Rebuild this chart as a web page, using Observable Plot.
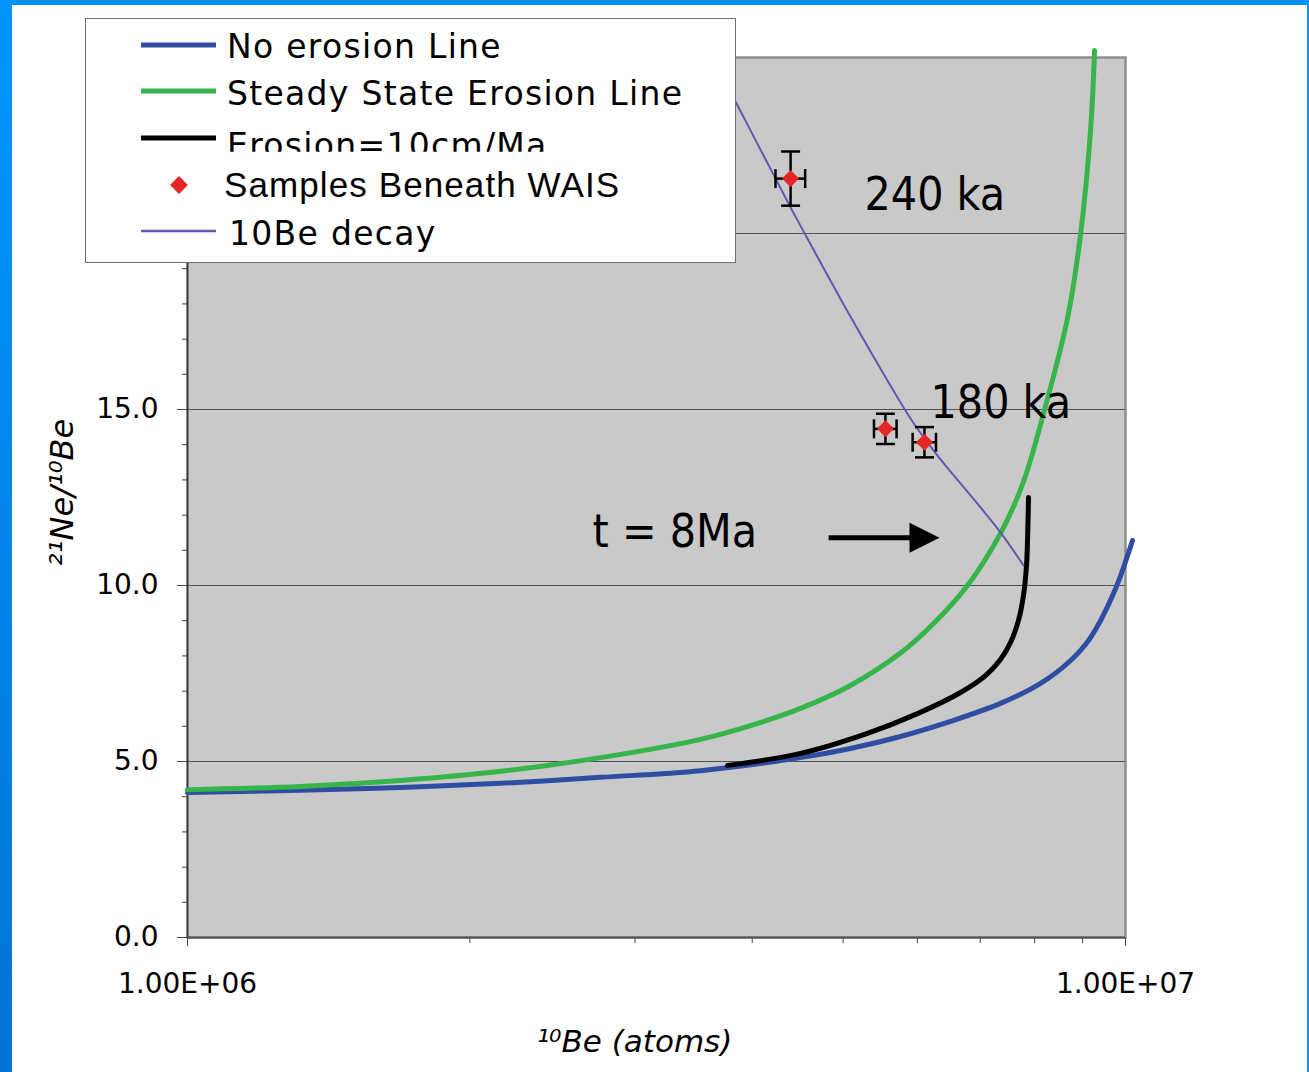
<!DOCTYPE html>
<html>
<head>
<meta charset="utf-8">
<script src="https://cdn.jsdelivr.net/npm/d3@7"></script>
<script src="https://cdn.jsdelivr.net/npm/@observablehq/plot@0.6"></script>
<style>
html, body { margin: 0; padding: 0; background: #fff; }
#wrap { position: relative; width: 1309px; height: 1072px; overflow: hidden; background: #fff; }
#chart { position: absolute; left: 0; top: 0; }
.fl { position: absolute; left: 0; top: 0; width: 12px; height: 1072px; background: linear-gradient(#0096ff, #0074d4); }
.ft { position: absolute; left: 0; top: 0; width: 1309px; height: 5px; background: #0094ff; }
.fr { position: absolute; right: 0; top: 0; width: 2px; height: 1072px; background: #1a8ef2; }
</style>
</head>
<body>
<div id="wrap"><div id="chart"></div></div>
<script>
// ---- Axis ticks ----
const xTickValues = [1e6, 1e7];
const xTickLabels = ["1.00E+06", "1.00E+07"];
const xMinorTicks = [2e6, 3e6, 4e6, 5e6, 6e6, 7e6, 8e6, 9e6];
const yTickValues = [0, 5, 10, 15, 20, 25];
const yTickLabels = ["0.0", "5.0", "10.0", "15.0", "20.0", "25.0"];
const yMinorTicks = [1, 2, 3, 4, 6, 7, 8, 9, 11, 12, 13, 14, 16, 17, 18, 19, 21, 22, 23, 24];
const gridY = [5, 10, 15, 20];

// ---- Series ----
const noErosionX = [1.0e6, 1.319e6, 1.687e6, 2.157e6, 2.756e6, 3.523e6, 4.503e6, 5.090e6, 5.756e6, 6.508e6, 7.357e6, 8.118e6, 8.740e6, 9.178e6, 9.71e6, 1.0174e7];
const noErosionY = [4.12, 4.18, 4.26, 4.38, 4.55, 4.74, 5.11, 5.37, 5.71, 6.14, 6.65, 7.22, 7.87, 8.52, 9.77, 11.28];

const steadyX = [1.0e6, 1.319e6, 1.687e6, 2.157e6, 2.756e6, 3.523e6, 3.983e6, 4.503e6, 5.090e6, 5.756e6, 6.243e6, 6.785e6, 7.357e6, 7.785e6, 8.178e6, 8.676e6, 8.958e6, 9.178e6, 9.269e6];
const steadyY = [4.20, 4.29, 4.46, 4.72, 5.11, 5.63, 6.02, 6.51, 7.16, 8.08, 8.92, 10.0, 11.48, 12.95, 14.89, 17.61, 20.0, 22.93, 25.2];

const erosionX = [3.765e6, 4.503e6, 5.308e6, 6.001e6, 6.670e6, 7.091e6, 7.357e6, 7.541e6, 7.690e6, 7.785e6, 7.843e6, 7.862e6, 7.882e6];
const erosionY = [4.89, 5.23, 5.80, 6.36, 6.96, 7.44, 7.90, 8.38, 9.01, 9.72, 10.57, 11.28, 12.50];

const decayX = [3.646e6, 3.983e6, 4.236e6, 4.373e6, 4.537e6, 5.090e6, 5.481e6, 5.756e6, 5.928e6, 6.105e6, 6.350e6, 6.670e6, 7.357e6, 7.785e6];
const decayY = [24.9, 22.93, 21.56, 20.85, 20.06, 17.64, 16.16, 15.20, 14.66, 14.18, 13.58, 12.90, 11.51, 10.57];

// ---- Samples beneath WAIS ----
const samplesX = [4.395e6, 5.547e6, 6.105e6];
const samplesY = [21.56, 14.45, 14.07];
const samplesXErr = [0.16e6, 0.154e6, 0.175e6];
const samplesYErr = [0.77, 0.43, 0.43];

// ---- Annotations ----
const annotText = ["240 ka", "180 ka", "t = 8Ma"];
const annotX = [5.269e6, 6.196e6, 2.703e6];
const annotY = [21.08, 15.17, 11.5];
const arrowX = [4.825e6, 5.899e6];
const arrowHeadX = [6.105e6];
const arrowY = [11.36];

// ---- Legend ----
const legendLabels = ["No erosion Line", "Steady State Erosion Line", "Erosion=10cm/Ma", "Samples Beneath WAIS", "10Be decay"];
const legendColors = ["#2f4ea3", "#36b54a", "#000000", "#e62525", "#6259ad"];

const xLabel = "\u00B9\u2070Be (atoms)";
const yLabel = "\u00B2\u00B9Ne/\u00B9\u2070Be";

// ---- build tables ----
const zipXY = (xs, ys) => xs.map((x, i) => ({x, y: ys[i]}));
const noErosion = zipXY(noErosionX, noErosionY);
const steady = zipXY(steadyX, steadyY);
const erosion = zipXY(erosionX, erosionY);
const decay = zipXY(decayX, decayY);
const samples = samplesX.map((x, i) => ({x, y: samplesY[i], xe: samplesXErr[i], ye: samplesYErr[i]}));
const annots = annotText.map((t, i) => ({t, x: annotX[i], y: annotY[i]}));
const arrow = [{x1: arrowX[0], x2: arrowX[1], y: arrowY[0], hx: arrowHeadX[0]}];
const xFmt = d => xTickLabels[xTickValues.findIndex(v => Math.abs(v - d) < 1)] ?? "";
const yFmt = d => yTickLabels[yTickValues.indexOf(d)] ?? "";

// custom symbols
const hcap = {draw(c) { c.moveTo(-9.5, 0); c.lineTo(9.5, 0); }};
const vcap = {draw(c) { c.moveTo(0, -9.5); c.lineTo(0, 9.5); }};
const diamond = {draw(c) { c.moveTo(0, -8.5); c.lineTo(8.5, 0); c.lineTo(0, 8.5); c.lineTo(-8.5, 0); c.closePath(); }};
const tri = {draw(c) { c.moveTo(-15, -15); c.lineTo(15, 0); c.lineTo(-15, 15); c.closePath(); }};

const chart = Plot.plot({
  width: 1309,
  height: 1072,
  marginLeft: 187,
  marginRight: 184,
  marginTop: 57,
  marginBottom: 135,
  style: {fontFamily: "DejaVu Sans, sans-serif", fontSize: "28px", background: "transparent", color: "black"},
  x: {type: "log", domain: [1e6, 1e7]},
  y: {domain: [0, 25]},
  marks: [
    Plot.frame({fill: "#c9c9c9", stroke: "#8f8f8f", strokeWidth: 2.5}),
    Plot.ruleY(gridY, {stroke: "#505050", strokeWidth: 1}),
    Plot.ruleX([xTickValues[0]], {stroke: "#3a3a3a", strokeWidth: 1.6}),
    Plot.ruleY([yTickValues[0]], {stroke: "#555", strokeWidth: 2}),
    Plot.axisY({ticks: yMinorTicks, tickSize: 5, tickFormat: () => "", label: null, stroke: "#444"}),
    Plot.axisY({ticks: yTickValues, tickSize: 10, tickPadding: 19, tickFormat: yFmt, label: null, stroke: "#444", fill: "black", fontSize: 28}),
    Plot.axisX({ticks: xMinorTicks, tickSize: 6, tickFormat: () => "", label: null, stroke: "#444"}),
    Plot.axisX({ticks: xTickValues, tickSize: 9, tickPadding: 27, tickFormat: xFmt, label: null, stroke: "#444", fill: "black", fontSize: 28}),
    Plot.line(noErosion, {x: "x", y: "y", stroke: legendColors[0], strokeWidth: 5, curve: "catmull-rom"}),
    Plot.line(steady, {x: "x", y: "y", stroke: legendColors[1], strokeWidth: 5, curve: "catmull-rom"}),
    Plot.line(erosion, {x: "x", y: "y", stroke: legendColors[2], strokeWidth: 5, curve: "catmull-rom"}),
    Plot.line(decay, {x: "x", y: "y", stroke: legendColors[4], strokeWidth: 2, curve: "catmull-rom"}),
    // error bars
    Plot.link(samples, {x1: "x", x2: "x", y1: d => d.y - d.ye, y2: d => d.y + d.ye, stroke: "black", strokeWidth: 2.5}),
    Plot.link(samples, {x1: d => d.x - d.xe, x2: d => d.x + d.xe, y1: "y", y2: "y", stroke: "black", strokeWidth: 2.5}),
    Plot.dot(samples, {x: "x", y: d => d.y + d.ye, symbol: hcap, stroke: "black", strokeWidth: 2.5, fill: "none"}),
    Plot.dot(samples, {x: "x", y: d => d.y - d.ye, symbol: hcap, stroke: "black", strokeWidth: 2.5, fill: "none"}),
    Plot.dot(samples, {x: d => d.x - d.xe, y: "y", symbol: vcap, stroke: "black", strokeWidth: 2.5, fill: "none"}),
    Plot.dot(samples, {x: d => d.x + d.xe, y: "y", symbol: vcap, stroke: "black", strokeWidth: 2.5, fill: "none"}),
    Plot.dot(samples, {x: "x", y: "y", symbol: diamond, fill: legendColors[3], stroke: "none"}),
    // annotations
    Plot.text(annots, {x: "x", y: "y", text: "t", textAnchor: "start", fontSize: 46, fontFamily: "DejaVu Sans Condensed, Roboto, sans-serif", fill: "black"}),
    Plot.link(arrow, {x1: "x1", x2: "x2", y1: "y", y2: "y", stroke: "black", strokeWidth: 5}),
    Plot.dot(arrow, {x: "hx", y: "y", symbol: tri, fill: "black", stroke: "none"}),
    // axis labels
    Plot.text([yLabel], {frameAnchor: "left", textAnchor: "middle", lineAnchor: "middle", rotate: -90, dx: -125, dy: -5, fontSize: 32, fontStyle: "italic", fill: "black"}),
    Plot.text([xLabel], {frameAnchor: "bottom", textAnchor: "middle", lineAnchor: "middle", dx: -22, dy: 105, fontSize: 31, fontStyle: "italic", fill: "black"})
  ]
});
document.getElementById("chart").appendChild(chart);

// ---- legend overlay ----
const wrap = d3.select("#wrap");
const lg = wrap.append("svg")
  .attr("width", 651).attr("height", 245)
  .style("position", "absolute").style("left", "85px").style("top", "18px");
lg.append("defs").append("clipPath").attr("id", "clipRow3")
  .append("rect").attr("x", 0).attr("y", 0).attr("width", 651).attr("height", 133.7);
lg.append("rect").attr("x", 0.5).attr("y", 0.5).attr("width", 650).attr("height", 244)
  .attr("fill", "white").attr("stroke", "#707070").attr("stroke-width", 1);
const rowY = [27, 73, 120, 167, 213];
const baseY = [40, 87, 139, 179, 227];
const textX = [142, 142, 142, 139, 144];
legendLabels.forEach((lab, i) => {
  if (i === 3) {
    lg.append("path").attr("d", d3.symbol(diamond)()).attr("transform", `translate(94,${rowY[i]}) scale(1.05)`).attr("fill", legendColors[i]);
  } else {
    lg.append("line").attr("x1", 56).attr("x2", 131).attr("y1", rowY[i]).attr("y2", rowY[i])
      .attr("stroke", legendColors[i]).attr("stroke-width", i === 4 ? 2.5 : 5);
  }
  const t = lg.append("text").attr("x", textX[i]).attr("y", baseY[i]).text(lab).attr("fill", "black");
  if (i === 3) {
    t.style("font-family", "Liberation Sans, Arial, sans-serif").style("font-size", "35px").style("letter-spacing", "1.1px");
  } else {
    t.style("font-family", "DejaVu Sans, sans-serif").style("font-size", "33px").style("letter-spacing", "1.3px");
  }
  if (i === 2) t.attr("clip-path", "url(#clipRow3)");
});

// blue slide frame
wrap.append("div").attr("class", "fl");
wrap.append("div").attr("class", "ft");
wrap.append("div").attr("class", "fr");
</script>
</body>
</html>
